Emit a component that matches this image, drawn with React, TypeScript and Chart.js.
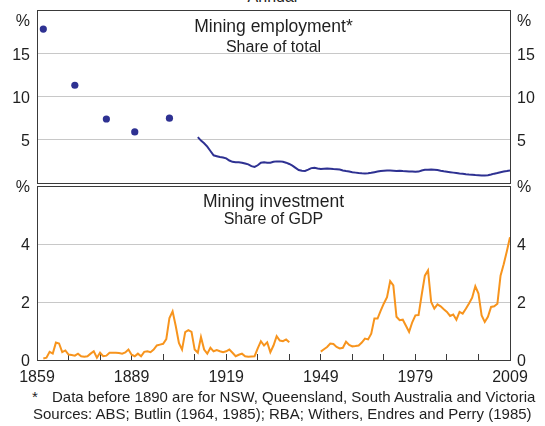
import React, { useEffect, useRef } from 'react';
import { Chart, registerables } from 'chart.js';

Chart.register(...registerables);

// ---------- data ----------
const X_MIN = 1859;
const X_MAX = 2009;
const xTickYears = [1859, 1869, 1879, 1889, 1899, 1909, 1919, 1929, 1939, 1949, 1959, 1969, 1979, 1989, 1999, 2009];
const xLabelYears = [1859, 1889, 1919, 1949, 1979, 2009];

const empDotYears = [1861, 1871, 1881, 1890, 1901];
const empDotValues = [17.8, 11.3, 7.4, 5.9, 7.5];

const empLineStartYear = 1910;
const empLineValues = [
  5.3, 4.9, 4.6, 4.2, 3.7, 3.2, 3.1, 3.0, 2.95, 2.85,
  2.6, 2.45, 2.4, 2.4, 2.35, 2.25, 2.15, 1.95, 1.85, 2.05,
  2.35, 2.4, 2.35, 2.35, 2.45, 2.5, 2.5, 2.45, 2.35, 2.2,
  2.0, 1.75, 1.5, 1.42, 1.4, 1.55, 1.72, 1.75, 1.68, 1.62,
  1.65, 1.68, 1.65, 1.62, 1.6, 1.55, 1.45, 1.38, 1.32, 1.25,
  1.2, 1.15, 1.12, 1.1, 1.12, 1.18, 1.25, 1.32, 1.38, 1.42,
  1.45, 1.44, 1.42, 1.4, 1.42, 1.38, 1.36, 1.34, 1.32, 1.3,
  1.32, 1.45, 1.52, 1.53, 1.55, 1.53, 1.5, 1.42, 1.35, 1.3,
  1.25, 1.2, 1.15, 1.1, 1.08, 1.02, 0.98, 0.95, 0.92, 0.9,
  0.88, 0.88, 0.9, 0.98, 1.08, 1.15, 1.25, 1.32, 1.38, 1.45,
];

const invStartYear = 1861;
const invValues: (number | null)[] = [
  0.05, 0.08, 0.28, 0.22, 0.6, 0.57, 0.27, 0.33, 0.19,
  0.17, 0.15, 0.22, 0.13, 0.11, 0.13, 0.22, 0.3, 0.08, 0.25,
  0.13, 0.15, 0.25, 0.25, 0.25, 0.24, 0.22, 0.26, 0.36, 0.18,
  0.13, 0.22, 0.13, 0.28, 0.3, 0.27, 0.36, 0.5, 0.53, 0.56,
  0.72, 1.45, 1.68, 1.17, 0.59, 0.36, 0.96, 1.03, 0.97, 0.36,
  0.25, 0.79, 0.36, 0.22, 0.42, 0.3, 0.34, 0.3, 0.27, 0.3,
  0.36, 0.25, 0.13, 0.18, 0.22, 0.13, 0.11, 0.12, 0.13, 0.4,
  0.65, 0.5, 0.61, 0.27, 0.5, 0.82, 0.67, 0.65, 0.71, 0.61,
  null, null, null, null, null, null, null, null, null, 0.29,
  0.37, 0.45, 0.57, 0.55, 0.45, 0.4, 0.42, 0.63, 0.52, 0.47,
  0.48, 0.5, 0.6, 0.74, 0.71, 0.91, 1.43, 1.43, 1.7, 1.95,
  2.17, 2.72, 2.57, 1.49, 1.37, 1.39, 1.18, 0.97, 1.3, 1.54,
  1.55, 2.25, 2.91, 3.09, 2.0, 1.77, 1.92, 1.85, 1.75, 1.66,
  1.52, 1.57, 1.39, 1.66, 1.6, 1.77, 1.95, 2.15, 2.54, 2.29,
  1.54, 1.31, 1.49, 1.83, 1.85, 1.94, 2.91, 3.3, 3.75, 4.23,
];

const topYMax = 20;
const topYStep = 5;
const botYMax = 6;
const botYStep = 2;

// ---------- style ----------
const FONT = '"Liberation Sans", Arial, Helvetica, sans-serif';
const TEXT = '#1f1f1f';
const AXIS = '#3a3a3a';
const GRID = '#c8c8c8';
const NAVY = '#2e3192';
const ORANGE = '#f7941d';

function yAxis(pos: 'left' | 'right', max: number, step: number, fmt: (v: number) => any, onArea: boolean) {
  return {
    type: 'linear',
    position: pos,
    min: 0,
    max,
    ticks: {
      stepSize: step,
      autoSkip: false,
      padding: 7,
      labelOffset: 2,
      color: TEXT,
      font: { family: FONT, size: 16 },
      callback: (v: any) => fmt(Number(v)),
    },
    grid: {
      display: true,
      drawOnChartArea: onArea,
      drawTicks: false,
      lineWidth: 1,
      color: (ctx: any) => (ctx.tick && (ctx.tick.value === 0 || ctx.tick.value === max) ? AXIS : GRID),
    },
    border: { display: true, color: AXIS, width: 1 },
    afterFit: (s: any) => {
      s.width = pos === 'left' ? 37 : 35;
      s.paddingTop = 0;
      s.paddingBottom = 0;
    },
  };
}

export default function App() {
  const topRef = useRef<HTMLCanvasElement>(null);
  const botRef = useRef<HTMLCanvasElement>(null);

  useEffect(() => {
    const topFmt = (v: number) => (v === topYMax ? ['', '%'] : v === 0 ? '' : String(v));
    const botFmt = (v: number) => (v === botYMax ? '%' : String(v));

    const empLine = empLineValues.map((y, i) => ({ x: empLineStartYear + i, y }));
    const empDots = empDotYears.map((x, i) => ({ x, y: empDotValues[i] }));
    const inv = invValues.map((y, i) => ({ x: invStartYear + i, y }));

    const top = new Chart(topRef.current!, {
      type: 'line',
      data: {
        datasets: [
          {
            data: empDots as any,
            showLine: false,
            pointRadius: 3.6,
            pointBackgroundColor: NAVY,
            pointBorderWidth: 0,
            borderColor: NAVY,
          },
          {
            data: empLine as any,
            borderColor: NAVY,
            borderWidth: 2,
            pointRadius: 0,
            tension: 0,
          },
        ],
      },
      options: {
        responsive: false,
        animation: false,
        events: [],
        layout: { padding: { top: 10, bottom: 1, left: 0, right: 0 } },
        plugins: { legend: { display: false }, tooltip: { enabled: false }, title: { display: false } },
        scales: {
          x: { type: 'linear', min: X_MIN, max: X_MAX, display: false },
          y: yAxis('left', topYMax, topYStep, topFmt, true) as any,
          y2: yAxis('right', topYMax, topYStep, topFmt, false) as any,
        },
      },
    });

    const bot = new Chart(botRef.current!, {
      type: 'line',
      data: {
        datasets: [
          {
            data: inv as any,
            borderColor: ORANGE,
            borderWidth: 2,
            pointRadius: 0,
            tension: 0,
            spanGaps: false,
          },
        ],
      },
      options: {
        responsive: false,
        animation: false,
        events: [],
        layout: { padding: { top: 10, bottom: 0, left: 0, right: 0 } },
        plugins: { legend: { display: false }, tooltip: { enabled: false }, title: { display: false } },
        scales: {
          x: {
            type: 'linear',
            min: X_MIN,
            max: X_MAX,
            afterBuildTicks: (s: any) => {
              s.ticks = xTickYears.map((v) => ({ value: v }));
            },
            ticks: {
              autoSkip: false,
              maxRotation: 0,
              minRotation: 0,
              padding: 14,
              color: TEXT,
              font: { family: FONT, size: 16 },
              callback: (v: any) => (xLabelYears.includes(Number(v)) ? String(v) : ''),
            },
            grid: { drawOnChartArea: false, drawTicks: true, tickLength: -6, color: AXIS, lineWidth: 1 },
            border: { display: true, color: AXIS, width: 1 },
            afterFit: (s: any) => {
              s.height = 26;
              s.paddingLeft = 0;
              s.paddingRight = 0;
            },
          } as any,
          y: yAxis('left', botYMax, botYStep, botFmt, true) as any,
          y2: yAxis('right', botYMax, botYStep, botFmt, false) as any,
        },
      },
    });

    return () => {
      top.destroy();
      bot.destroy();
    };
  }, []);

  const txt: React.CSSProperties = {
    position: 'absolute',
    fontFamily: FONT,
    color: TEXT,
    whiteSpace: 'nowrap',
    lineHeight: '16px',
  };

  return (
    <div style={{ position: 'fixed', left: 0, top: 0, width: 545, height: 426, background: '#fff', overflow: 'hidden' }}>
      <div style={{ ...txt, left: 0, width: 545, textAlign: 'center', top: -11, fontSize: 16 }}>Annual</div>
      <canvas ref={topRef} width={545} height={187} style={{ position: 'absolute', left: 0, top: 0 }} />
      <canvas ref={botRef} width={545} height={210} style={{ position: 'absolute', left: 0, top: 176 }} />
      <div style={{ ...txt, left: 37, width: 473, textAlign: 'center', top: 18, fontSize: 17.5 }}>Mining employment*</div>
      <div style={{ ...txt, left: 37, width: 473, textAlign: 'center', top: 39, fontSize: 16 }}>Share of total</div>
      <div style={{ ...txt, left: 37, width: 473, textAlign: 'center', top: 193, fontSize: 17.5 }}>Mining investment</div>
      <div style={{ ...txt, left: 37, width: 473, textAlign: 'center', top: 211, fontSize: 16 }}>Share of GDP</div>
      <div style={{ ...txt, left: 32, top: 389, fontSize: 15 }}>*</div>
      <div style={{ ...txt, left: 52, top: 389, fontSize: 15 }}>Data before 1890 are for NSW, Queensland, South Australia and Victoria</div>
      <div style={{ ...txt, left: 33, top: 406, fontSize: 15 }}>Sources: ABS; Butlin (1964, 1985); RBA; Withers, Endres and Perry (1985)</div>
    </div>
  );
}
